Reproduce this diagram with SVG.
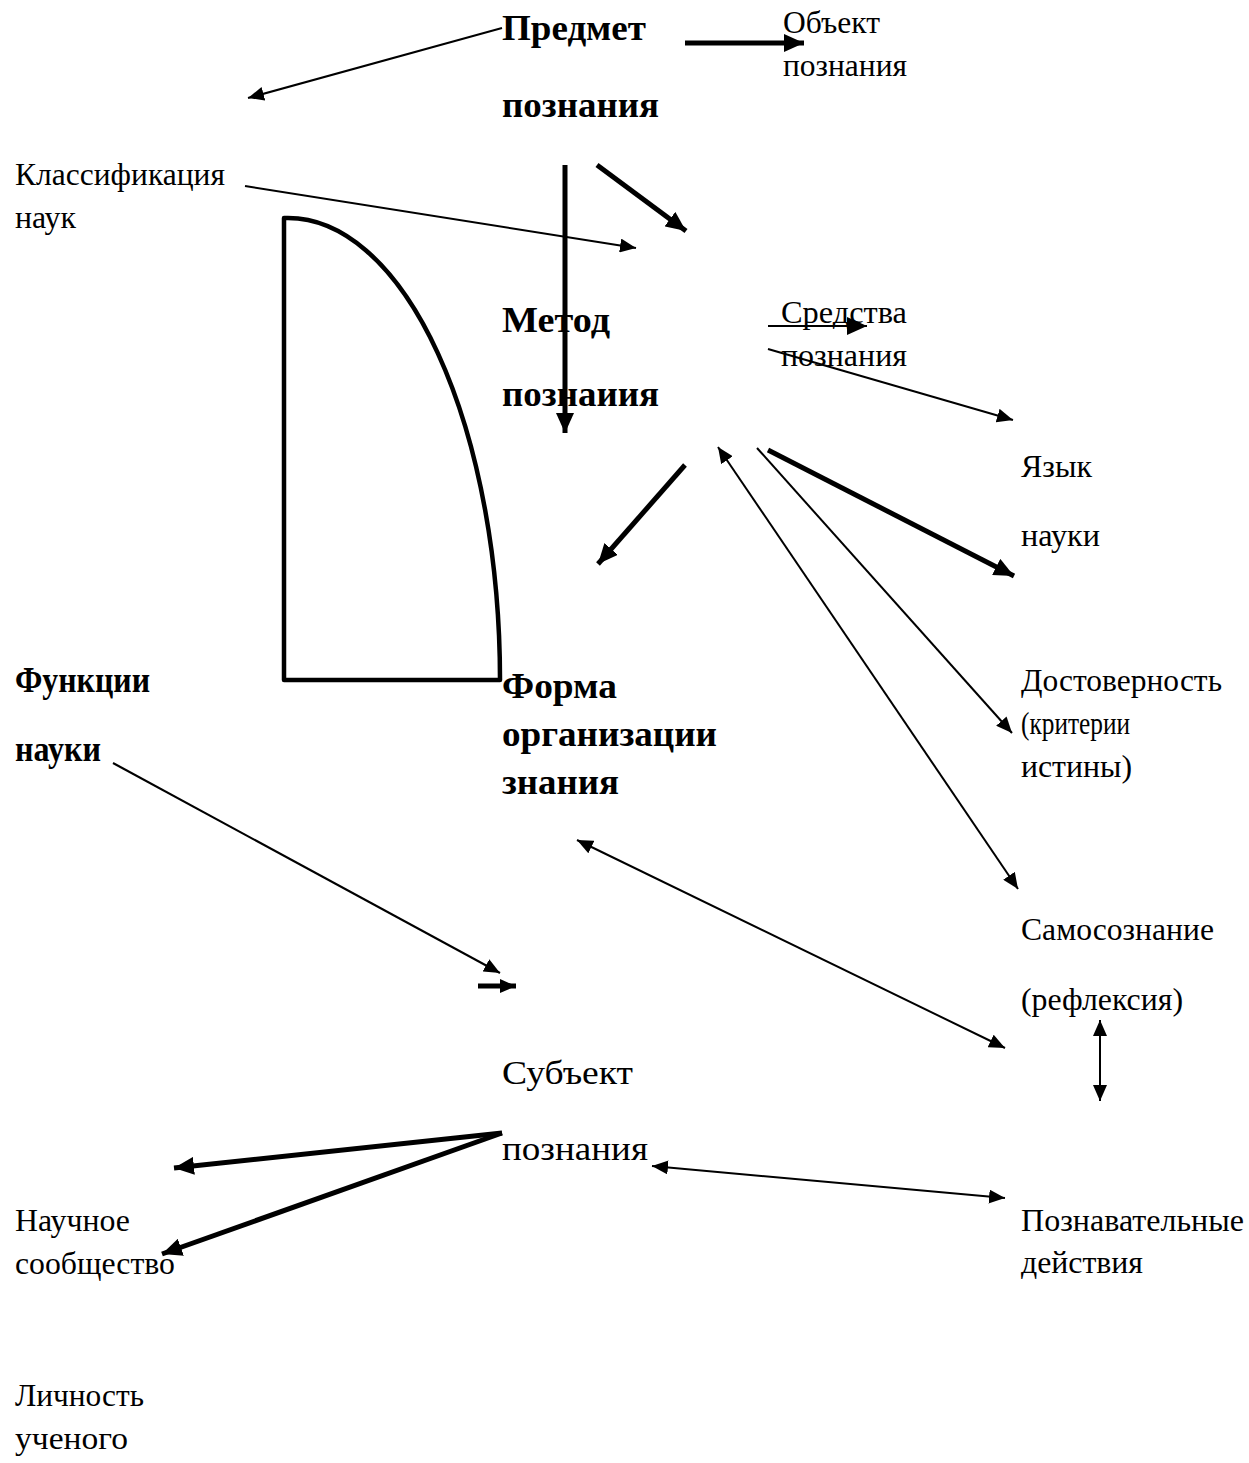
<svg xmlns="http://www.w3.org/2000/svg" width="1249" height="1463" viewBox="0 0 1249 1463">
<style>
text{font-family:"Liberation Serif","Times New Roman",serif;fill:#000}
.b{font-weight:bold;font-size:36px}
.r{font-size:31px}
.r2{font-size:34px}
.t{stroke:#000;stroke-width:2;fill:none}
.k{stroke:#000;stroke-width:5;fill:none}
</style>
<defs>
<marker id="a" markerUnits="userSpaceOnUse" markerWidth="16" markerHeight="14" refX="16" refY="7" orient="auto-start-reverse"><path d="M0,0 L16,7 L0,14 z" fill="#000"/></marker>
<marker id="A" markerUnits="userSpaceOnUse" markerWidth="20" markerHeight="18" refX="20" refY="9" orient="auto-start-reverse"><path d="M0,0 L20,9 L0,18 z" fill="#000"/></marker>
</defs>
<rect width="1249" height="1463" fill="#fff"/>
<g id="shape"><path d="M284,218 L288,218 A212,462 0 0 1 500,680 L284,680 Z" fill="none" stroke="#000" stroke-width="4.5" stroke-linejoin="round"/></g>
<g id="connectors">
<line class="t" x1="502" y1="28" x2="248" y2="98" marker-end="url(#a)"/>
<line class="k" x1="685" y1="43" x2="804" y2="43" marker-end="url(#A)"/>
<line class="t" x1="245" y1="186" x2="636" y2="248" marker-end="url(#a)"/>
<line class="k" x1="565" y1="165" x2="565" y2="433" marker-end="url(#A)"/>
<line class="k" x1="597" y1="165" x2="686" y2="231" marker-end="url(#A)"/>
<line class="t" stroke-width="2.5" x1="768" y1="326" x2="867" y2="326" marker-end="url(#A)"/>
<line class="t" x1="768" y1="349" x2="1013" y2="420" marker-end="url(#a)"/>
<line class="k" x1="685" y1="465" x2="598" y2="564" marker-end="url(#A)"/>
<line class="t" x1="718" y1="447" x2="1018" y2="889" marker-start="url(#a)" marker-end="url(#a)"/>
<line class="t" x1="757" y1="448" x2="1012" y2="733" marker-end="url(#a)"/>
<line class="k" x1="768" y1="450" x2="1014" y2="576" marker-end="url(#A)"/>
<line class="t" x1="113" y1="763" x2="500" y2="973" marker-end="url(#a)"/>
<line class="k" x1="478" y1="986" x2="516" y2="986" marker-end="url(#a)"/>
<line class="t" x1="577" y1="840" x2="1005" y2="1048" marker-start="url(#a)" marker-end="url(#a)"/>
<line class="t" x1="1100" y1="1020" x2="1100" y2="1101" marker-start="url(#a)" marker-end="url(#a)"/>
<line class="t" x1="652" y1="1166" x2="1005" y2="1198" marker-start="url(#a)" marker-end="url(#a)"/>
<line class="k" x1="502" y1="1133" x2="174" y2="1168" marker-end="url(#A)"/>
<line class="k" x1="502" y1="1133" x2="162" y2="1254" marker-end="url(#A)"/>
</g>
<g id="predmet"><text class="b" x="502" y="40" textLength="144" lengthAdjust="spacingAndGlyphs">Предмет</text><text class="b" x="502" y="117" textLength="157" lengthAdjust="spacingAndGlyphs">познания</text></g>
<g id="obekt"><text class="r" x="783" y="33" textLength="97" lengthAdjust="spacingAndGlyphs">Объект</text><text class="r" x="783" y="76" textLength="124" lengthAdjust="spacingAndGlyphs">познания</text></g>
<g id="klass"><text class="r" x="15" y="185" textLength="210" lengthAdjust="spacingAndGlyphs">Классификация</text><text class="r" x="15" y="228" textLength="61" lengthAdjust="spacingAndGlyphs">наук</text></g>
<g id="metod"><text class="b" x="502" y="332" textLength="108" lengthAdjust="spacingAndGlyphs">Метод</text><text class="b" x="502" y="406" textLength="157" lengthAdjust="spacingAndGlyphs">познаиия</text></g>
<g id="sredstva"><text class="r" x="781" y="323" textLength="126" lengthAdjust="spacingAndGlyphs">Средства</text><text class="r" x="781" y="366" textLength="126" lengthAdjust="spacingAndGlyphs">познания</text></g>
<g id="yazyk"><text class="r" x="1021" y="477" textLength="71" lengthAdjust="spacingAndGlyphs">Язык</text><text class="r" x="1021" y="546" textLength="79" lengthAdjust="spacingAndGlyphs">науки</text></g>
<g id="funkcii"><text class="b" x="15" y="692" textLength="135" lengthAdjust="spacingAndGlyphs">Функции</text><text class="b" x="15" y="761" textLength="86" lengthAdjust="spacingAndGlyphs">науки</text></g>
<g id="forma"><text class="b" x="502" y="698" textLength="115" lengthAdjust="spacingAndGlyphs">Форма</text><text class="b" x="502" y="746" textLength="215" lengthAdjust="spacingAndGlyphs">организации</text><text class="b" x="502" y="794" textLength="117" lengthAdjust="spacingAndGlyphs">знания</text></g>
<g id="dostov"><text class="r" x="1021" y="691" textLength="201" lengthAdjust="spacingAndGlyphs">Достоверность</text><text class="r" x="1021" y="734" textLength="109" lengthAdjust="spacingAndGlyphs">(критерии</text><text class="r" x="1021" y="777" textLength="111" lengthAdjust="spacingAndGlyphs">истины)</text></g>
<g id="samosoz"><text class="r" x="1021" y="940" textLength="193" lengthAdjust="spacingAndGlyphs">Самосознание</text><text class="r" x="1021" y="1010" textLength="162" lengthAdjust="spacingAndGlyphs">(рефлексия)</text></g>
<g id="subekt"><text class="r2" x="502" y="1084" textLength="131" lengthAdjust="spacingAndGlyphs">Субъект</text><text class="r2" x="502" y="1160" textLength="146" lengthAdjust="spacingAndGlyphs">познания</text></g>
<g id="poznav"><text class="r" x="1021" y="1231" textLength="223" lengthAdjust="spacingAndGlyphs">Познавательные</text><text class="r" x="1021" y="1273" textLength="122" lengthAdjust="spacingAndGlyphs">действия</text></g>
<g id="nauchnoe"><text class="r" x="15" y="1231" textLength="115" lengthAdjust="spacingAndGlyphs">Научное</text><text class="r" x="15" y="1274" textLength="160" lengthAdjust="spacingAndGlyphs">сообщество</text></g>
<g id="lichnost"><text class="r" x="15" y="1406" textLength="129" lengthAdjust="spacingAndGlyphs">Личность</text><text class="r" x="15" y="1449" textLength="113" lengthAdjust="spacingAndGlyphs">ученого</text></g>
</svg>
